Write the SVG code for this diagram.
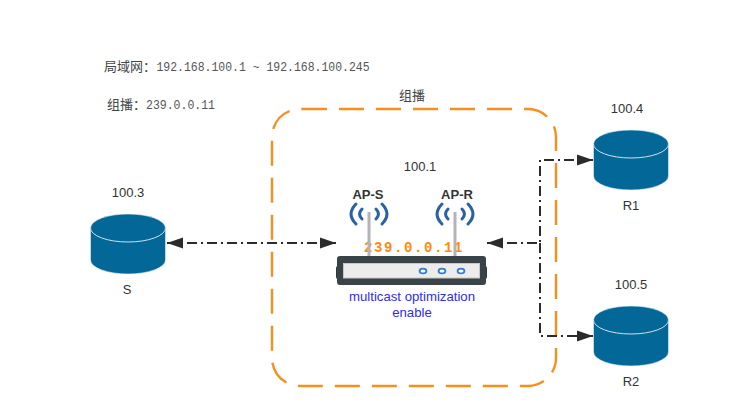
<svg xmlns="http://www.w3.org/2000/svg" width="743" height="419" viewBox="0 0 743 419">
<style>
.t{font-family:"Liberation Sans",Arial,sans-serif;font-size:13px;fill:#333;text-anchor:middle}
.c{font-family:"Liberation Mono","Noto Sans CJK SC",monospace;font-size:13px;fill:#555}
.z{font-family:"Noto Sans CJK SC",sans-serif;font-size:13px;fill:#444}
.b{font-weight:bold}
.blue{fill:#2e2ee6;font-size:13.200px}
.cy{fill:#036897;stroke:#e8f0f4;stroke-width:.6}
.cyt{fill:none;stroke:#cfe0ea;stroke-width:1}
.con{fill:none;stroke:#2b2b2b;stroke-width:2;stroke-dasharray:10 4 2 4}
.w{fill:none;stroke:#2a5faa;stroke-width:3;stroke-linecap:round}
.ant{stroke:#b4b4b4;stroke-width:3}
</style>
<defs>
<marker id="a" markerUnits="userSpaceOnUse" markerWidth="17" markerHeight="12" refX="16" refY="6" orient="auto-start-reverse"><path d="M0 0.500L16 6L0 11.500Z" fill="#2b2b2b"/></marker>
<g id="db"><path class="cy" d="M-37.500 14A37.500 14 0 0 1 37.500 14V46A37.500 14 0 0 1 -37.500 46Z"/><path class="cyt" d="M-37.500 14A37.500 14 0 0 0 37.500 14"/></g>
</defs>
<text class="z" x="104" y="71">局域网：</text>
<text class="c" x="156.500" y="71" textLength="213" lengthAdjust="spacingAndGlyphs">192.168.100.1 ~ 192.168.100.245</text>
<text class="z" x="107" y="109">组播：</text>
<text class="c" x="146" y="109" textLength="69" lengthAdjust="spacingAndGlyphs">239.0.0.11</text>
<text class="z" x="412" y="100" text-anchor="middle">组播</text>
<g id="group"><path d="M302 109H528A28 28 0 0 1 556 137V358A28 28 0 0 1 528 386H300A28 28 0 0 1 272 358V137A28 28 0 0 1 300 109Z" fill="none" stroke="#f68f1e" stroke-width="2.400" stroke-dasharray="25 12"/></g>
<g id="connectors">
<path class="con" d="M167 243H336" marker-start="url(#a)" marker-end="url(#a)"/>
<path class="con" d="M487 243H540V160H593" marker-start="url(#a)" marker-end="url(#a)"/>
<path class="con" d="M540 243V336H593" marker-end="url(#a)"/>
</g>
<g id="S"><use href="#db" x="128" y="214"/><text class="t" x="128" y="197">100.3</text><text class="t" x="127" y="294">S</text></g>
<g id="R1"><use href="#db" x="631" y="130"/><text class="t" x="627" y="113">100.4</text><text class="t" x="631" y="210">R1</text></g>
<g id="R2"><use href="#db" x="631" y="306"/><text class="t" x="631" y="289">100.5</text><text class="t" x="631" y="386">R2</text></g>
<g id="AP">
<text class="t" x="420" y="171">100.1</text>
<text class="t b" x="368" y="199">AP-S</text>
<text class="t b" x="457" y="199">AP-R</text>
<path class="w" d="M356 204Q346 214 356 224M382 204Q392 214 382 224M362 209Q357 214 362 219M376 209Q381 214 376 219"/>
<path class="w" d="M442 204Q432 214 442 224M468 204Q478 214 468 224M448 209Q443 214 448 219M462 209Q467 214 462 219"/>
<text x="364" y="252" style="font-family:'Liberation Mono',monospace;font-weight:bold;font-size:14px;letter-spacing:1.600px;fill:#ff8a10">239.0.0.11</text>
<rect x="336" y="266" width="151" height="13" rx="2" fill="#2f3a3f"/>
<rect x="337" y="256" width="149" height="29" rx="3" fill="#3a4347"/>
<rect x="343.500" y="263.500" width="136" height="14.500" fill="#ececec" stroke="#c8c8c8"/>
<g fill="#fff" stroke="#2f7fd6" stroke-width="1.800"><ellipse cx="423" cy="271" rx="3.400" ry="2.400"/><ellipse cx="442" cy="271" rx="3.400" ry="2.400"/><ellipse cx="461" cy="271" rx="3.400" ry="2.400"/></g>
<path class="ant" d="M369 212V256M455 212V256"/>
<text class="t blue" x="412" y="301">multicast optimization</text>
<text class="t blue" x="412" y="317">enable</text>
</g>
</svg>
